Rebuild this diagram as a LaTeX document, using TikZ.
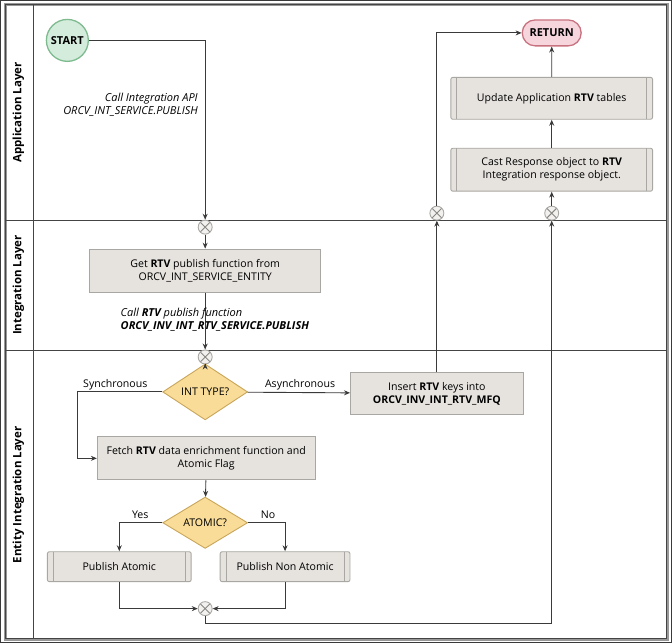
\documentclass[tikz,border=0pt]{standalone}
\usepackage{fontspec}
\setmainfont{Open Sans}
\usetikzlibrary{arrows.meta,shapes.geometric,shapes.misc,positioning}

\definecolor{boxfill}{HTML}{E6E3DF}
\definecolor{boxline}{HTML}{A9A7A3}
\definecolor{startfill}{HTML}{D4ECDC}
\definecolor{startline}{HTML}{7DBB8F}
\definecolor{retfill}{HTML}{F6D5DD}
\definecolor{retline}{HTML}{C9727F}
\definecolor{decfill}{HTML}{F8DC98}
\definecolor{decline}{HTML}{C9A55A}
\definecolor{flowline}{HTML}{3A3A3A}
\definecolor{laneline}{HTML}{444444}

\tikzset{
  task/.style={draw=boxline, fill=boxfill, align=center, inner sep=2pt},
  subtask/.style={task, rounded corners=2pt,
    path picture={\draw[boxline]
      ([xshift=6pt]path picture bounding box.north west) -- ([xshift=6pt]path picture bounding box.south west)
      ([xshift=-6pt]path picture bounding box.north east) -- ([xshift=-6pt]path picture bounding box.south east);}},
  decision/.style={diamond, draw=decline, fill=decfill, inner sep=0pt, minimum width=85pt, minimum height=31pt},
  gate/.style={circle, draw=boxline, fill=boxfill!50, minimum size=14pt, inner sep=0pt,
    path picture={\draw[boxline!80!black]
      (path picture bounding box.north west) -- (path picture bounding box.south east)
      (path picture bounding box.north east) -- (path picture bounding box.south west);}},
  terminal/.style={line width=1.3pt, inner sep=0pt, font=\fontsize{11}{13}\selectfont\bfseries},
  lanelabel/.style={rotate=90, font=\fontsize{11.5}{13}\selectfont\bfseries},
  flowlabel/.style={font=\fontsize{11}{13}\selectfont\itshape, inner sep=0pt},
}

\begin{document}
\begin{tikzpicture}[x=1pt, y=-1pt, >={Stealth[length=6pt,width=5pt]},
  font=\fontsize{10.6}{13}\selectfont, line width=0.9pt, every path/.append style={draw=flowline}]

\useasboundingbox (0,0) rectangle (672,643);

% lanes
\draw[laneline!55, line width=2.5pt] (5,4) rectangle (668,640);
\draw[laneline] (5,4) rectangle (667,639);
\draw[laneline] (33,4) -- (33,639);
\draw[laneline] (5,220) -- (667,220);
\draw[laneline] (5,350) -- (667,350);
\node[lanelabel] (lapp) at (18,112) {Application Layer};
\node[lanelabel] (lint) at (18,285) {Integration Layer};
\node[lanelabel] (lent) at (18,495) {Entity Integration Layer};

% nodes
\node[terminal, circle, draw=startline, fill=startfill, minimum size=42pt] (start) at (67,40) {START};
\node[gate] (g1) at (205,227) {};
\node[task, minimum width=231pt, minimum height=43pt] (getfn) at (205,270.5)
  {Get \textbf{RTV} publish function from\\ORCV\_INT\_SERVICE\_ENTITY};
\node[gate] (g2) at (205,357) {};
\node[decision] (inttype) at (205,392) {INT TYPE?};
\node[task, minimum width=173pt, minimum height=43pt] (insert) at (437,393.5)
  {Insert \textbf{RTV} keys into\\\textbf{ORCV\_INV\_INT\_RTV\_MFQ}};
\node[task, minimum width=218pt, minimum height=43pt] (fetch) at (206,458.5)
  {Fetch \textbf{RTV} data enrichment function and\\Atomic Flag};
\node[decision] (atomic) at (205,523) {ATOMIC?};
\node[subtask, minimum width=144pt, minimum height=30pt] (pubatom) at (119,567) {Publish Atomic};
\node[subtask, minimum width=130pt, minimum height=30pt] (pubnon) at (285,567) {Publish Non Atomic};
\node[gate] (g3) at (205,609) {};
\node[gate] (g4) at (437,213) {};
\node[gate] (g5) at (552,213) {};
\node[subtask, minimum width=202pt, minimum height=43pt] (cast) at (552,169.5)
  {Cast Response object to \textbf{RTV}\\Integration response object.};
\node[subtask, minimum width=202pt, minimum height=42pt] (update) at (552,98)
  {Update Application \textbf{RTV} tables};
\node[terminal, rounded rectangle, draw=retline, fill=retfill, minimum width=59pt, minimum height=26pt] (ret) at (552,32.5)
  {RETURN};

\coordinate (sync) at (77,392);
\coordinate (loop) at (552,624);

% connectors
\draw[->] (start.east) -| (g1.north);
\draw[->] (g1) -- (getfn);
\draw[->] (getfn) -- (g2);
\draw[->] (g2) -- (inttype);
\draw[->] (inttype.west) -- (sync) |- (fetch.west);
\draw[->] (inttype) -- (insert);
\draw[->] (insert) -- (g4);
\draw[->] (g4.north) |- (ret.west);
\draw[->] (g5) -- (cast);
\draw[->] (cast) -- (update);
\draw[->] (update) -- (ret);
\draw[->] (fetch) -- (atomic);
\draw[->] (atomic.west) -| (pubatom.north);
\draw[->] (atomic.east) -| (pubnon.north);
\draw[->] (pubatom.south) |- (g3.west);
\draw[->] (pubnon.south) |- (g3.east);
\draw[->] (g3.south) |- (loop) -- (g5.south);

% labels
\node[flowlabel, anchor=east, align=right] (callapi) at (198,104)
  {Call Integration API\\ORCV\_INT\_SERVICE.PUBLISH};
\node[flowlabel, anchor=west, align=left] (callrtv) at (120,319.5)
  {Call \textbf{RTV} publish function\\\textbf{ORCV\_INV\_INT\_RTV\_SERVICE.PUBLISH}};
\node[inner sep=0pt] (lsync) at (115,385) {Synchronous};
\node[inner sep=0pt] (lasync) at (300,385) {Asynchronous};
\node[inner sep=0pt] (lyes) at (140,515) {Yes};
\node[inner sep=0pt] (lno) at (268,515) {No};

\end{tikzpicture}
\end{document}
